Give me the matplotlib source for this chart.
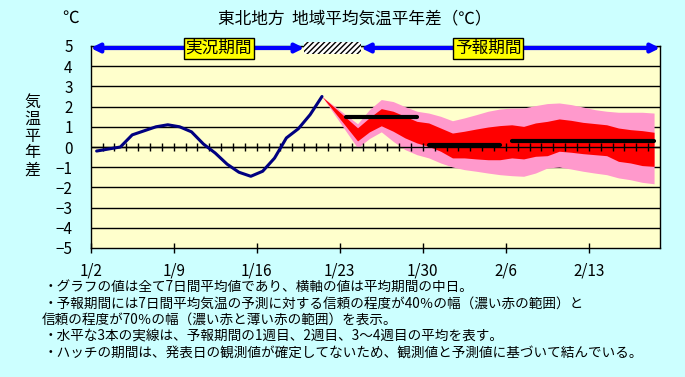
import numpy as np
import matplotlib
matplotlib.use("Agg")
import matplotlib.pyplot as plt
from matplotlib.patches import Rectangle

plt.rcParams['font.family'] = ['Noto Sans CJK JP', 'DejaVu Sans']

# --- data -------------------------------------------------------------
# observed 7-day mean anomaly, one value per day starting 1/2
obs = [-0.2, -0.1, 0.0, 0.6, 0.8, 1.0, 1.1, 1.0, 0.75, 0.15,
       -0.3, -0.85, -1.25, -1.45, -1.2, -0.55, 0.45, 0.9, 1.6, 2.5]

# forecast band (index of day, from 1/2 = 0)
fc_day = [19, 22, 23, 24, 25, 26, 27, 28, 29, 30, 31, 32, 33, 34, 35,
          36, 37, 38, 39, 40, 41, 42, 43, 44, 45, 46, 47]
p70_hi = [2.5, 1.15, 1.85, 2.35, 2.25, 2.0, 1.77, 1.68, 1.52, 1.3, 1.44, 1.6, 1.77, 1.88, 1.93,
          1.93, 2.05, 2.15, 2.18, 2.1, 1.98, 1.85, 1.77, 1.72, 1.72, 1.72, 1.68]
p40_hi = [2.5, 0.95, 1.45, 1.9, 1.77, 1.52, 1.27, 1.19, 0.94, 0.69, 0.78, 0.89, 0.99, 1.06, 1.1,
          1.02, 1.19, 1.27, 1.39, 1.32, 1.22, 1.16, 1.1, 0.94, 0.86, 0.81, 0.73]
p40_lo = [2.5, 0.3, 0.75, 1.05, 0.78, 0.45, 0.2, 0.03, -0.21, -0.54, -0.54, -0.59, -0.63, -0.63, -0.54,
          -0.59, -0.46, -0.43, -0.21, -0.26, -0.33, -0.38, -0.43, -0.71, -0.79, -0.92, -0.96]
p70_lo = [2.5, -0.05, 0.42, 0.75, 0.28, -0.13, -0.38, -0.54, -0.79, -0.99, -1.12, -1.2, -1.29, -1.37, -1.42,
          -1.45, -1.29, -1.04, -0.99, -1.09, -1.2, -1.29, -1.37, -1.53, -1.62, -1.75, -1.82]

# weekly means: (first day, last day, value)
week_start = [21, 28, 35]
week_end = [27, 34, 47]
week_val = [1.5, 0.1, 0.3]

date_labels = ['1/2', '1/9', '1/16', '1/23', '1/30', '2/6', '2/13']
n_days = 48

notes = [
    '・グラフの値は全て7日間平均値であり、横軸の値は平均期間の中日。',
    '・予報期間には7日間平均気温の予測に対する信頼の程度が40％の幅（濃い赤の範囲）と',
    '信頼の程度が70％の幅（濃い赤と薄い赤の範囲）を表示。',
    '・水平な3本の実線は、予報期間の1週目、2週目、3～4週目の平均を表す。',
    '・ハッチの期間は、発表日の観測値が確定してないため、観測値と予測値に基づいて結んでいる。',
]

# --- figure -----------------------------------------------------------
W, H = 685, 377
fig = plt.figure(figsize=(W / 100, H / 100), dpi=100, facecolor='#CCFFFF')
ax = fig.add_axes([90.7 / W, 1 - 248 / H, (660 - 90.7) / W, (248 - 46) / H])
ax.set_facecolor('#FFFFCC')
ax.set_xlim(0, n_days)
ax.set_ylim(-5, 5)

for v in range(-4, 6):
    ax.axhline(v, color='black', lw=1.0, zorder=1)

fx = np.array(fc_day) + 0.5
ax.fill_between(fx, p70_lo, p70_hi, color='#FF99CC', lw=0, zorder=2)
ax.fill_between(fx, p40_lo, p40_hi, color='#FF0000', lw=0, zorder=3)

# zero line with daily ticks
ax.axhline(0, color='black', lw=1.0, zorder=4)
ax.vlines(np.arange(1, n_days), -0.2, 0.2, color='black', lw=1.0, zorder=4)

ox = np.arange(len(obs)) + 0.5
ax.plot(ox, obs, color='#000080', lw=2.2, zorder=5, solid_capstyle='round')

for s, e, v in zip(week_start, week_end, week_val):
    ax.plot([s + 0.5, e + 0.5], [v, v], color='black', lw=3.0,
            solid_capstyle='round', zorder=6)

ax.set_yticks(range(-5, 6))
ax.set_yticklabels([str(v).replace('-', '−') for v in range(-5, 6)])
ax.set_xticks(np.arange(0, 43, 7))
ax.set_xticklabels(date_labels)
ax.tick_params(axis='y', length=0, pad=13, labelsize=11)
ax.tick_params(axis='x', direction='inout', length=7, width=1.0, pad=7, labelsize=11)
for sp in ax.spines.values():
    sp.set_color('black')
    sp.set_linewidth(1.0)

# period arrows on top
ya = 4.9
arr = dict(arrowstyle='<|-|>,head_length=0.5,head_width=0.25', color='#0000FF', lw=3,
           shrinkA=0, shrinkB=0)
ax.annotate('', xy=(0, ya), xytext=(18.0, ya), arrowprops=arr, annotation_clip=False, zorder=7)
ax.annotate('', xy=(22.8, ya), xytext=(48, ya), arrowprops=arr, annotation_clip=False, zorder=7)
ax.add_patch(Rectangle((18.0, 4.6), 4.8, 0.6, facecolor='white', edgecolor='black',
                       hatch='//////', lw=0, clip_on=False, zorder=7))
box = dict(boxstyle='square,pad=0.12', facecolor='#FFFF00', edgecolor='black', lw=1)
ax.text(10.8, ya, '実況期間', ha='center', va='center', fontsize=12, bbox=box, zorder=8)
ax.text(33.5, ya, '予報期間', ha='center', va='center', fontsize=12, bbox=box, zorder=8)

# titles
fig.text(355 / W, 1 - 19 / H, '東北地方  地域平均気温平年差（℃）', ha='center', va='center', fontsize=12)
fig.text(71 / W, 1 - 18 / H, '℃', ha='center', va='center', fontsize=12)
fig.text(32 / W, 1 - 136 / H, '\n'.join('気温平年差'), ha='center', va='center',
         fontsize=11.5, linespacing=1.0)

y0 = 287
for i, t in enumerate(notes):
    x = 42 if i == 2 else 44
    fig.text(x / W, 1 - (y0 + 16.3 * i) / H, t, ha='left', va='center', fontsize=9.8)

fig.savefig('out.png', dpi=100, facecolor=fig.get_facecolor())
